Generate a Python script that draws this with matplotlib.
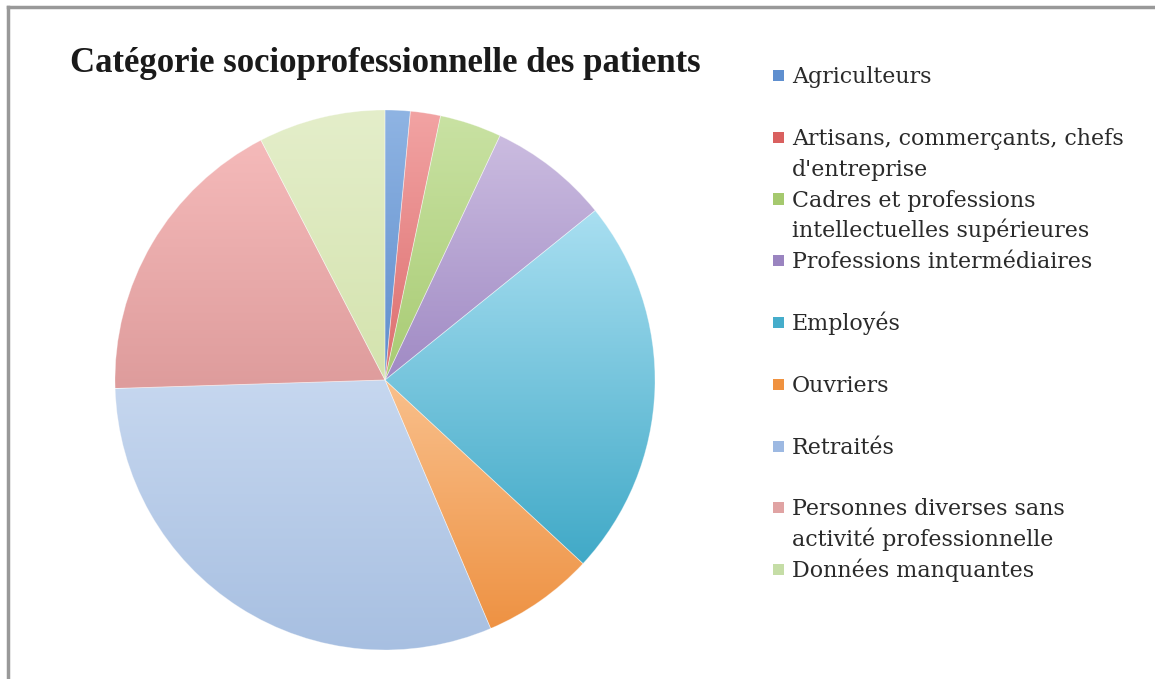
import numpy as np
import matplotlib
matplotlib.use("Agg")
import matplotlib.pyplot as plt
from matplotlib.colors import LinearSegmentedColormap
from matplotlib.patches import Rectangle
from matplotlib.lines import Line2D

# Shares (percent), clockwise from 12 o'clock.
categories = [
    "Agriculteurs",
    "Artisans, commerçants, chefs\nd'entreprise",
    "Cadres et professions\nintellectuelles supérieures",
    "Professions intermédiaires",
    "Employés",
    "Ouvriers",
    "Retraités",
    "Personnes diverses sans\nactivité professionnelle",
    "Données manquantes",
]
shares = [1.5, 1.8, 3.7, 7.2, 22.7, 6.7, 30.9, 17.9, 7.6]

# light (top) / dark (bottom) gradient colours of each slice
top_colors = ["#8FB4E3", "#F2A3A3", "#C9E2A3", "#CBBCE0", "#A9DFF1",
              "#F9C08C", "#C6D7EF", "#F5BABA", "#E4EECA"]
bot_colors = ["#5E8DCC", "#DC6E6E", "#A8CB73", "#A08AC4", "#40A9C7",
              "#EE9243", "#A7BFE1", "#DE9C9C", "#D4E3AE"]
legend_colors = ["#5F8FCF", "#D9605F", "#A5C96E", "#9A84C0", "#45ADCB",
                 "#F0923F", "#9DB9E2", "#E0A3A3", "#C5DDA6"]

W, H, DPI = 1155, 679, 100
fig = plt.figure(figsize=(W / DPI, H / DPI), dpi=DPI)
fig.patch.set_facecolor("white")

# pie: centre (385, 380) px, radius 270 px
cx, cy, r = 385, 380, 270
ax = fig.add_axes([(cx - r) / W, (H - cy - r) / H, 2 * r / W, 2 * r / H])
wedges, _ = ax.pie(shares, startangle=90, counterclock=False, radius=1.0,
                   wedgeprops=dict(linewidth=0))
ax.set_aspect("equal")
ax.axis("off")

grad = np.linspace(0, 1, 256).reshape(-1, 1)
for w, c0, c1 in zip(wedges, top_colors, bot_colors):
    w.set_facecolor("none")
    cmap = LinearSegmentedColormap.from_list("g", [c0, c1])
    verts = w.get_path().vertices
    x0, x1 = verts[:, 0].min(), verts[:, 0].max()
    y0, y1 = verts[:, 1].min(), verts[:, 1].max()
    im = ax.imshow(grad, cmap=cmap, extent=(x0, x1, y0, y1), origin="upper",
                   aspect="auto", interpolation="bilinear", zorder=1)
    im.set_clip_path(w)
    # thin light edge between slices
    w.set_edgecolor((1, 1, 1, 0.35))
    w.set_linewidth(0.6)
    w.set_zorder(2)
ax.set_xlim(-1.0, 1.0)
ax.set_ylim(-1.0, 1.0)

# title
fig.text(385 / W, 1 - 72 / H, "Catégorie socioprofessionnelle des patients",
         ha="center", va="baseline", fontsize=25, fontweight="bold",
         family="Liberation Serif", color="#1a1a1a")

# legend drawn by hand
first_base = 83
step = 61.75
line_gap = 31
for i, (lab, col) in enumerate(zip(categories, legend_colors)):
    base = first_base + i * step
    fig.patches.append(Rectangle((773 / W, 1 - (base - 2) / H), 11 / W, 11 / H,
                                 transform=fig.transFigure, facecolor=col,
                                 edgecolor="none"))
    for k, line in enumerate(lab.split("\n")):
        fig.text(792 / W, 1 - (base + k * line_gap) / H, line, ha="left",
                 va="baseline", fontsize=15.9, family="DejaVu Serif",
                 color="#2a2a2a")

# grey frame (top and left only are visible)
fig.add_artist(Line2D([8 / W, 1], [1 - 7 / H, 1 - 7 / H], transform=fig.transFigure,
                      color="#999999", lw=2.5))
fig.add_artist(Line2D([8 / W, 8 / W], [0, 1 - 7 / H], transform=fig.transFigure,
                      color="#999999", lw=2.5))

fig.savefig("out.png", dpi=DPI)
